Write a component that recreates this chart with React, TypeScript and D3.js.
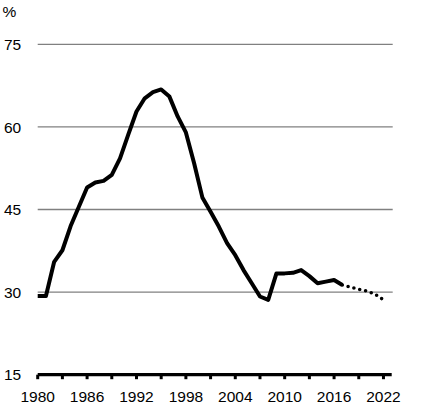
import * as d3 from "d3";

// Actual values 1980-2017
const actualYears = d3.range(1980, 2018);
const actualValues = [
  29.3, 29.3, 35.5, 37.6, 42.0, 45.5, 49.0, 49.9, 50.2, 51.3,
  54.3, 58.6, 62.8, 65.2, 66.3, 66.8, 65.5, 61.9, 59.0, 53.4,
  47.2, 44.6, 41.9, 38.9, 36.7, 34.0, 31.6, 29.2, 28.6, 33.4,
  33.4, 33.5, 34.0, 32.9, 31.6, 31.9, 32.2, 31.3,
];

// Projection 2017-2022
const projYears = [2017, 2018, 2019, 2020, 2021, 2022];
const projValues = [31.3, 30.9, 30.5, 30.2, 29.6, 28.6];

const yTicks = [15, 30, 45, 60, 75];
const xTickMarks = d3.range(1980, 2023, 3);
const xTickLabels = [1980, 1986, 1992, 1998, 2004, 2010, 2016, 2022];

const W = 421;
const H = 418;
const margin = { top: 44.3, right: 29.3, bottom: 43.3, left: 37.7 };
const font = "'Liberation Sans', Arial, sans-serif";

type Pt = { year: number; value: number };

export default function App() {
  const x = d3
    .scaleLinear()
    .domain([1980, 2023])
    .range([margin.left, W - margin.right]);
  const y = d3
    .scaleLinear()
    .domain([15, 75])
    .range([H - margin.bottom, margin.top]);

  const line = d3
    .line<Pt>()
    .x((d) => x(d.year))
    .y((d) => y(d.value));

  const actual: Pt[] = actualYears.map((yr, i) => ({ year: yr, value: actualValues[i] }));
  const proj: Pt[] = projYears.map((yr, i) => ({ year: yr, value: projValues[i] }));

  const axisY = y(15);

  return (
    <svg
      width={W}
      height={H}
      style={{ position: "absolute", left: 0, top: 0, background: "#fff" }}
    >
      {/* gridlines */}
      {yTicks
        .filter((t) => t !== 15)
        .map((t) => (
          <line
            key={t}
            x1={x(1980)}
            x2={x(2023) + 1}
            y1={y(t)}
            y2={y(t)}
            stroke="#808080"
            strokeWidth={1.3}
          />
        ))}

      {/* y labels */}
      {yTicks.map((t) => (
        <text
          key={t}
          x={4}
          y={y(t) + 5.6}
          fontFamily={font}
          fontSize={15.5}
          fill="#000"
        >
          {t}
        </text>
      ))}
      <text x={2.5} y={17.3} fontFamily={font} fontSize={15.5} fill="#000">
        %
      </text>

      {/* data */}
      <path
        d={line(actual) ?? ""}
        fill="none"
        stroke="#000"
        strokeWidth={4}
        strokeLinejoin="round"
      />
      <path
        d={line(proj) ?? ""}
        fill="none"
        stroke="#000"
        strokeWidth={3.6}
        strokeLinecap="round"
        strokeDasharray="0 6"
      />

      {/* x axis */}
      <line
        x1={x(1980)}
        x2={x(2023)}
        y1={axisY}
        y2={axisY}
        stroke="#000"
        strokeWidth={3.2}
      />
      {xTickMarks.map((t) => (
        <line
          key={t}
          x1={x(t)}
          x2={x(t)}
          y1={axisY}
          y2={axisY + 4.5}
          stroke="#000"
          strokeWidth={3}
        />
      ))}
      {xTickLabels.map((t) => (
        <text
          key={t}
          x={x(t)}
          y={401.5}
          textAnchor="middle"
          fontFamily={font}
          fontSize={15.5}
          fill="#000"
        >
          {t}
        </text>
      ))}
    </svg>
  );
}
